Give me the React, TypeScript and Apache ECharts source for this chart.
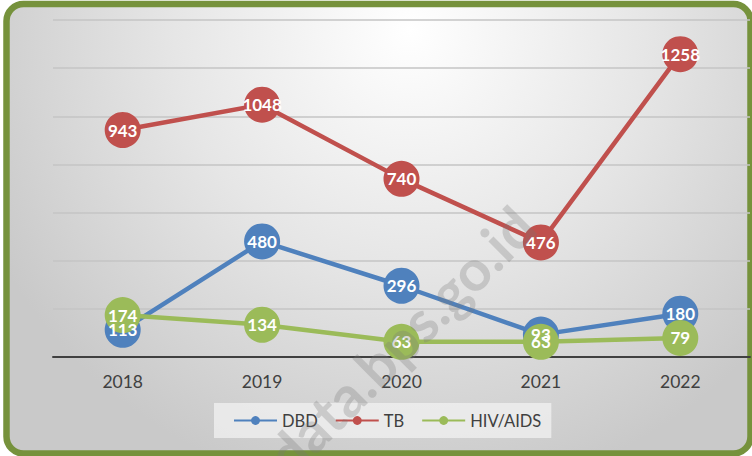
import React, { useEffect, useRef } from "react";
import * as echarts from "echarts";

const categories = ["2018", "2019", "2020", "2021", "2022"];
const dbd = [113, 480, 296, 93, 180];
const tb = [943, 1048, 740, 476, 1258];
const hiv = [174, 134, 63, 63, 79];
const seriesNames = ["DBD", "TB", "HIV/AIDS"];
const seriesColors = ["#4f81bd", "#c0504d", "#9bbb59"];

const FONT = "Lato, 'Open Sans', sans-serif";

export default function App() {
  const ref = useRef<HTMLDivElement>(null);
  useEffect(() => {
    if (!ref.current) return;
    const chart = echarts.init(ref.current, undefined, { renderer: "svg" });
    const dataSets = [dbd, tb, hiv];
    const series = dataSets.map((d, i) => ({
      name: seriesNames[i],
      type: "line",
      data: d,
      symbol: "circle",
      symbolSize: 36,
      lineStyle: { color: seriesColors[i], width: 4.5 },
      itemStyle: { color: seriesColors[i] },
      label: {
        show: true,
        position: "inside",
        color: "#ffffff",
        fontWeight: "bold",
        fontSize: 17,
        fontFamily: FONT,
      },
      emphasis: { disabled: true },
    }));
    chart.setOption({
      animation: false,
      textStyle: { fontFamily: FONT },
      graphic: {
        elements: [
          {
            type: "rect",
            z: -1,
            silent: true,
            shape: { x: 6.5, y: 4, width: 744, height: 449.5, r: 17 },
            style: {
              fill: {
                type: "radial",
                x: 410,
                y: 30,
                r: 470,
                global: true,
                colorStops: [
                  { offset: 0, color: "#ffffff" },
                  { offset: 0.5, color: "#e6e6e6" },
                  { offset: 1, color: "#c9c9c9" },
                ],
              },
              stroke: "#76923c",
              lineWidth: 6.5,
            },
          },
          {
            type: "text",
            z: 100,
            silent: true,
            x: 524,
            y: 216,
            rotation: Math.PI / 4,
            style: {
              text: "data.bps.go.id",
              fill: "rgba(120,120,120,0.28)",
              font: "bold 57px " + FONT,
              textAlign: "right",
              textVerticalAlign: "middle",
            },
          },
        ],
      },
      legend: {
        data: seriesNames,
        left: 214,
        top: 403,
        padding: [9, 10, 9, 19],
        itemGap: 17,
        itemWidth: 43,
        itemHeight: 11,
        backgroundColor: "rgba(242,242,242,0.75)",
        textStyle: { color: "#404040", fontSize: 16.5, fontFamily: FONT },
      },
      grid: { left: 53, right: 2, top: 20, bottom: 99 },
      xAxis: {
        type: "category",
        data: categories,
        axisLine: { lineStyle: { color: "#404040", width: 2 } },
        axisTick: { show: false },
        axisLabel: { color: "#404040", fontSize: 17.5, margin: 15, fontFamily: FONT },
      },
      yAxis: {
        type: "value",
        min: 0,
        max: 1400,
        interval: 200,
        axisLine: { show: false },
        axisTick: { show: false },
        axisLabel: { show: false },
        splitLine: { lineStyle: { color: "#c4c4c4", width: 1.5 } },
      },
      series,
    });
    return () => chart.dispose();
  }, []);
  return (
    <div
      ref={ref}
      style={{ position: "absolute", left: 0, top: 0, width: 752, height: 456 }}
    />
  );
}
